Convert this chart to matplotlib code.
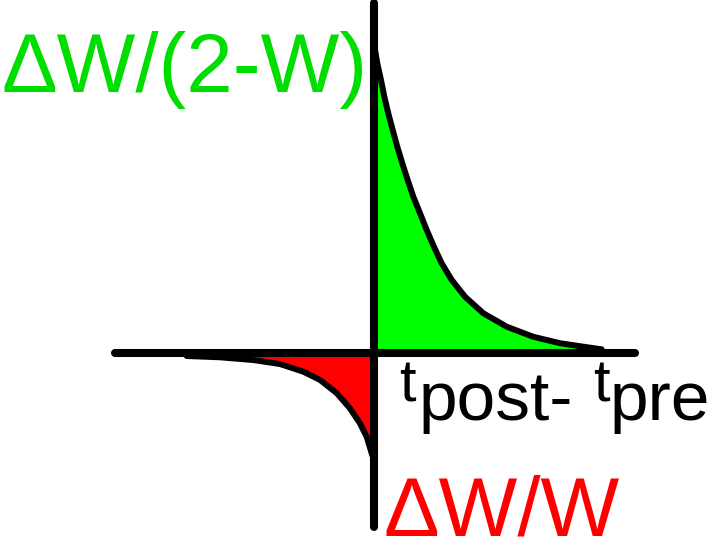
import matplotlib
matplotlib.use('Agg')
import matplotlib.pyplot as plt

plt.rcParams['font.family'] = ['Liberation Sans', 'DejaVu Sans']

# LTP branch (t_post - t_pre > 0)
ltp_t = [0.0, 0.33, 0.70, 1.03, 1.43, 1.87, 2.33, 2.83, 3.37, 3.93, 4.6,
         5.27, 6.0, 6.77, 7.77, 9.1, 10.93, 13.27, 15.93, 18.6, 21.27, 22.77]
ltp_w = [1.01, 0.947, 0.892, 0.838, 0.783, 0.729, 0.674, 0.620, 0.565,
         0.511, 0.457, 0.402, 0.347, 0.293, 0.239, 0.184, 0.130, 0.086,
         0.053, 0.032, 0.019, 0.012]

# LTD branch (t_post - t_pre < 0)
ltd_t = [-18.73, -15.4, -12.07, -9.4, -7.07, -5.4, -3.73, -2.4, -1.4,
         -0.73, -0.23, 0.0]
ltd_w = [-0.0098, -0.014, -0.023, -0.036, -0.061, -0.088, -0.131, -0.181,
         -0.230, -0.274, -0.328, -0.35]

GREEN = '#00ff00'
GREEN_TXT = '#00dd00'
RED = '#ff0000'


def main():
    W, H = 709, 539
    fig = plt.figure(figsize=(W / 100, H / 100), dpi=100)
    ax = fig.add_axes([0, 0, 1, 1])
    ax.set_xlim(-37.4, 33.5)
    ax.set_ylim(-0.6078, 1.1536)
    ax.axis('off')

    # filled areas under the curves
    ax.fill_between(ltp_t, 0, ltp_w, color=GREEN, lw=0, zorder=1)
    ax.fill_between(ltd_t, 0, ltd_w, color=RED, lw=0, zorder=1)

    # axes crosses
    ax.plot([-25.9, 26.1], [0, 0], color='black', lw=5.8,
            solid_capstyle='round', zorder=3)
    ax.plot([0, 0], [-0.569, 1.143], color='black', lw=5.8,
            solid_capstyle='round', zorder=3)

    # curves
    ax.plot(ltp_t, ltp_w, color='black', lw=4.3, solid_capstyle='round',
            solid_joinstyle='round', zorder=2)
    ax.plot(ltd_t, ltd_w, color='black', lw=4.3, solid_capstyle='round',
            solid_joinstyle='round', zorder=2)

    def fx(px):
        return px / W

    def fy(py):
        return 1 - py / H

    fig.text(fx(2), fy(92), '\u0394W/(2-W)', color=GREEN_TXT, fontsize=60,
             va='baseline', ha='left')
    fig.text(fx(383), fy(535), '\u0394W/W', color=RED, fontsize=60,
             va='baseline', ha='left')

    fig.text(fx(399), fy(402), 't', color='black', fontsize=43,
             va='baseline', ha='left')
    fig.text(fx(419), fy(420), 'post-', color='black', fontsize=50,
             va='baseline', ha='left')
    fig.text(fx(593), fy(402), 't', color='black', fontsize=43,
             va='baseline', ha='left')
    fig.text(fx(610), fy(420), 'pre', color='black', fontsize=50,
             va='baseline', ha='left')

    fig.savefig('out.png', dpi=100)
    plt.close(fig)


if __name__ == '__main__':
    main()
